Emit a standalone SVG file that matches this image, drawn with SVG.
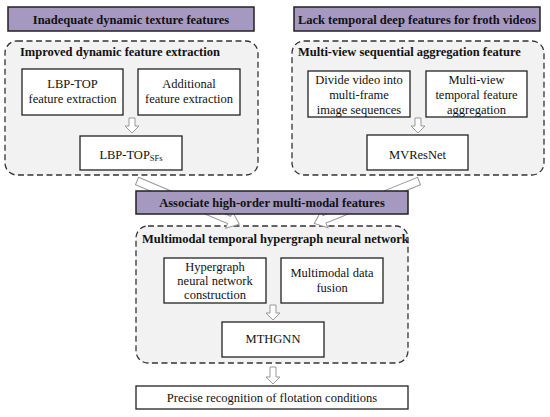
<svg xmlns="http://www.w3.org/2000/svg" width="550" height="417" viewBox="0 0 550 417" font-family="'Liberation Serif', 'Times New Roman', serif">
<style>
text{font-family:'Liberation Serif','Times New Roman',serif;fill:#111;text-anchor:middle}
.bar{fill:#a699c0;stroke:#222;stroke-width:1.5}
.bt{font-weight:bold;font-size:12.5px}
.grp{fill:#f2f2f2;stroke:#333;stroke-width:1.3;stroke-dasharray:6 3.5}
.gt{font-weight:bold;font-size:12.5px;text-anchor:start}
.box{fill:#fff;stroke:#222;stroke-width:1.3}
.t{font-size:12.5px}
.arr{fill:#fff;stroke:#999;stroke-width:1}
</style>
<rect width="550" height="417" fill="#fff"/>
<g id="group-left"><rect class="grp" x="5" y="41" width="253" height="134" rx="12"/><text class="gt" x="20" y="56" font-family="Liberation Serif">Improved dynamic feature extraction</text></g>
<g id="group-right"><rect class="grp" x="292" y="41" width="252" height="134" rx="12"/><text class="gt" x="298" y="56" font-family="Liberation Serif">Multi-view sequential aggregation feature</text></g>
<g id="group-bottom"><rect class="grp" x="136" y="226" width="272" height="137" rx="12"/><text class="gt" x="142" y="243" font-family="Liberation Serif">Multimodal temporal hypergraph neural network</text></g>
<g id="connectors">
<path class="arr" d="M0,-4 H100 V-9 L111,0 L100,9 V4 H0 Z" transform="translate(137,181) rotate(22.9)"/>
<path class="arr" d="M0,-4 H102 V-9 L113,0 L102,9 V4 H0 Z" transform="translate(419,181) rotate(157.9)"/>
<path class="arr" d="M129,118 h6 v8 h4 l-7,7 l-7,-7 h4 z"/>
<path class="arr" d="M415,118 h6 v8 h4 l-7,7 l-7,-7 h4 z"/>
<path class="arr" d="M270,305 h6 v8 h4 l-7,7 l-7,-7 h4 z"/>
<path class="arr" d="M270,367 h6 v10 h4 l-7,7 l-7,-7 h4 z"/>
</g>
<g id="problem-left"><rect class="bar" x="8" y="7" width="246" height="24"/><text class="bt" x="131" y="23.5">Inadequate dynamic texture features</text></g>
<g id="problem-right"><rect class="bar" x="294" y="7" width="246" height="24"/><text class="bt" x="417" y="23.5">Lack temporal deep features for froth videos</text></g>
<g id="lbptop"><rect class="box" x="22" y="69" width="101" height="46"/><text class="t" x="72.5" y="88">LBP-TOP</text><text class="t" x="72.5" y="103">feature extraction</text></g>
<g id="additional"><rect class="box" x="138" y="69" width="102" height="46"/><text class="t" x="189" y="88">Additional</text><text class="t" x="189" y="103">feature extraction</text></g>
<g id="lbptop-sfs"><rect class="box" x="80" y="136" width="102" height="34"/><text class="t" x="131" y="159">LBP-TOP<tspan font-size="8.5px" dy="2">SFs</tspan></text></g>
<g id="divide"><rect class="box" x="308" y="71" width="102" height="46"/><text class="t" x="359" y="84">Divide video into</text><text class="t" x="359" y="99">multi-frame</text><text class="t" x="359" y="114">image sequences</text></g>
<g id="multiview"><rect class="box" x="426" y="71" width="101" height="46"/><text class="t" x="476.5" y="84">Multi-view</text><text class="t" x="476.5" y="99">temporal feature</text><text class="t" x="476.5" y="114">aggregation</text></g>
<g id="mvresnet"><rect class="box" x="367" y="135" width="101" height="35"/><text class="t" x="417.5" y="159">MVResNet</text></g>
<g id="associate"><rect class="bar" x="136" y="191" width="272" height="23"/><text class="bt" x="272" y="207">Associate high-order multi-modal features</text></g>
<g id="hypergraph"><rect class="box" x="164" y="258" width="102" height="45"/><text class="t" x="215" y="271">Hypergraph</text><text class="t" x="215" y="285">neural network</text><text class="t" x="215" y="299">construction</text></g>
<g id="fusion"><rect class="box" x="281" y="258" width="102" height="45"/><text class="t" x="332" y="277">Multimodal data</text><text class="t" x="332" y="292">fusion</text></g>
<g id="mthgnn"><rect class="box" x="222" y="322" width="102" height="35"/><text class="t" x="273" y="343">MTHGNN</text></g>
<g id="recognition"><rect class="box" x="136" y="386" width="272" height="23"/><text class="t" x="272" y="402">Precise recognition of flotation conditions</text></g>
</svg>
